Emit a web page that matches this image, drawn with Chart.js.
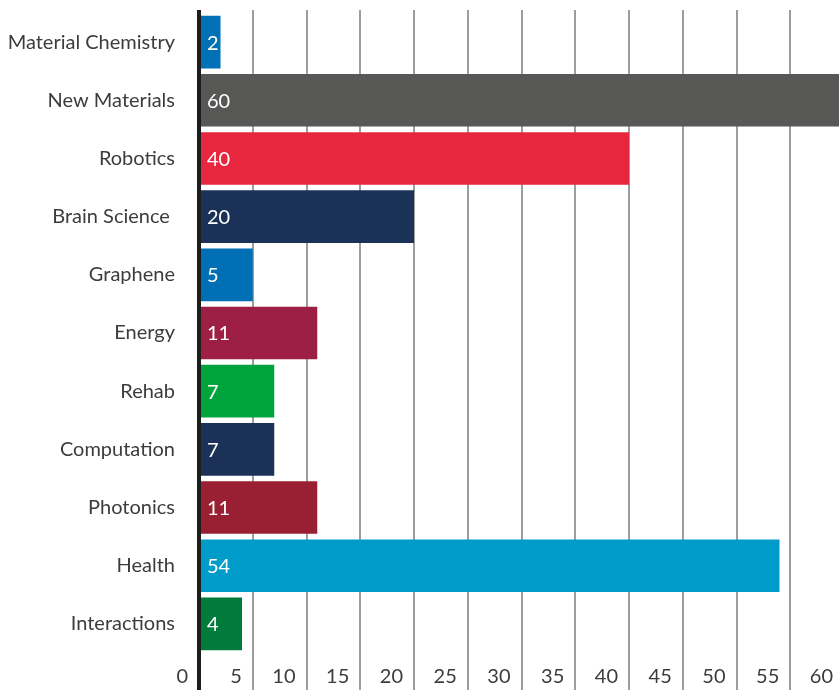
<!DOCTYPE html>
<html><head><meta charset="utf-8">
<script src="https://cdn.jsdelivr.net/npm/chart.js@4/dist/chart.umd.min.js"></script>
<style>html,body{margin:0;padding:0;overflow:hidden;background:#fff;width:839px;height:690px}canvas{display:block}</style>
</head><body>
<canvas id="c" width="844" height="690"></canvas>
<script>
const categories = ["Material Chemistry","New Materials","Robotics","Brain Science ","Graphene","Energy","Rehab","Computation","Photonics","Health","Interactions"];
const values = [2,60,40,20,5,11,7,7,11,54,4];
const barColors = ["#0071b5","#575756","#e8273f","#1b3158","#006fb6","#9e1f45","#00a43d","#1b3158","#982032","#009cc9","#007b3b"];
const xMin = 0, xMax = 60, xStep = 5;

const FONT = 'Lato';
const gridColor = c => (c.tick && c.tick.value === 0) ? '#1d1d1b' : '#9d9d9d';
const gridWidth = c => (c.tick && c.tick.value === 0) ? 4 : 2;

const valueLabels = {
  id: 'valueLabels',
  afterDatasetsDraw(chart) {
    const ctx = chart.ctx;
    const meta = chart.getDatasetMeta(0);
    ctx.save();
    ctx.font = '20px ' + FONT;
    ctx.fillStyle = '#ffffff';
    ctx.textAlign = 'left';
    ctx.textBaseline = 'middle';
    meta.data.forEach((bar, i) => {
      ctx.fillText(String(values[i]), bar.base + 6, bar.y + 1);
    });
    ctx.restore();
  }
};

new Chart(document.getElementById('c'), {
  type: 'bar',
  data: {
    labels: categories,
    datasets: [{
      data: values,
      backgroundColor: barColors,
      borderWidth: 0,
      barPercentage: 0.905,
      categoryPercentage: 1
    }]
  },
  options: {
    indexAxis: 'y',
    responsive: false,
    animation: false,
    devicePixelRatio: 1,
    layout: { padding: { top: 10, right: 0, bottom: 0, left: 0 } },
    plugins: { legend: { display: false }, tooltip: { enabled: false } },
    scales: {
      x: {
        type: 'linear', position: 'bottom', min: xMin, max: xMax,
        grid: { color: gridColor, lineWidth: gridWidth, tickLength: 37, drawTicks: true },
        border: { display: false },
        ticks: {
          stepSize: xStep, align: 'end', labelOffset: -11, padding: -25,
          color: '#3c3c3b', font: { family: FONT, size: 20 }
        },
        afterFit(s) { s.height = 37; s.paddingLeft = 0; s.paddingRight = 0; }
      },
      x2: {
        type: 'linear', axis: 'x', position: 'top', min: xMin, max: xMax,
        grid: { color: gridColor, lineWidth: gridWidth, tickLength: 3, drawOnChartArea: false },
        border: { display: false },
        ticks: { stepSize: xStep, display: false },
        afterFit(s) { s.height = 3; s.paddingLeft = 0; s.paddingRight = 0; }
      },
      y: {
        type: 'category',
        grid: { display: false, drawTicks: false },
        border: { display: true, color: '#1d1d1b', width: 4, z: 1 },
        ticks: { padding: 24, color: '#3c3c3b', font: { family: FONT, size: 20 } },
        afterFit(s) { s.width = 199; s.paddingTop = 0; s.paddingBottom = 0; }
      }
    }
  },
  plugins: [valueLabels]
});
</script>
</body></html>
